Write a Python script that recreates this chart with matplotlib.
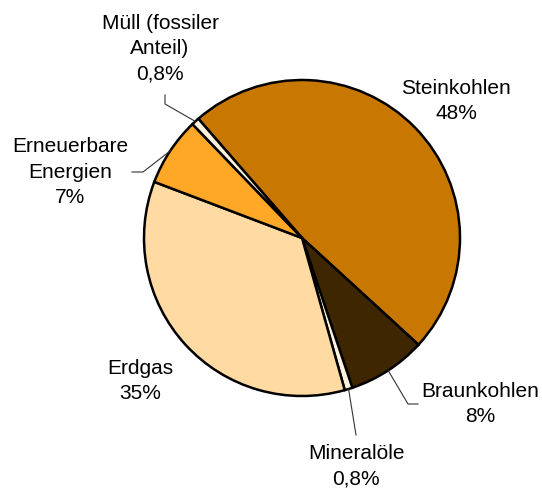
import numpy as np
import matplotlib.pyplot as plt

plt.rcParams['font.family'] = ['Liberation Sans', 'DejaVu Sans']

labels = ['Steinkohlen', 'Braunkohlen', 'Mineralöle', 'Erdgas',
          'Erneuerbare\nEnergien', 'Müll (fossiler\nAnteil)']
values = [48, 8, 0.8, 35, 7, 0.8]
pct_text = ['48%', '8%', '0,8%', '35%', '7%', '0,8%']
colors = ['#C87800', '#3D2600', '#FFF3E0', '#FFDBA3', '#FFA726', '#FFF3E0']

W, H = 542, 490
fig = plt.figure(figsize=(W / 100, H / 100), dpi=100)
ax = fig.add_axes([0, 0, 1, 1])

cx, cy, r = 302, H - 238, 158
wedges, _ = ax.pie(values, colors=colors, startangle=131, counterclock=False,
                   center=(cx, cy), radius=r, frame=True,
                   wedgeprops=dict(edgecolor='black', linewidth=1.8))
ax.set_xlim(0, W)
ax.set_ylim(0, H)
ax.set_aspect('equal')
ax.axis('off')

# label positions (pixel coords from top) and leader elbows
label_pos = [(456, 101), (480, 404), (356, 466), (140, 381), (70, 172), (160, 49)]
leaders = [None, [(408, 404), (418, 404)], [(356, 435)], None,
           [(143, 172), (132, 172)], [(165, 104), (165, 95)]]

for w, lab, pct, (px, py), lead in zip(wedges, labels, pct_text, label_pos, leaders):
    ax.text(px, H - py, f'{lab}\n{pct}', ha='center', va='center',
            fontsize=15, linespacing=1.43)
    if lead:
        mid = np.deg2rad((w.theta1 + w.theta2) / 2)
        xs = [cx + r * np.cos(mid)] + [p[0] for p in lead]
        ys = [cy + r * np.sin(mid)] + [H - p[1] for p in lead]
        ax.plot(xs, ys, color='#333333', lw=0.8)

fig.savefig('out.png', dpi=100)
